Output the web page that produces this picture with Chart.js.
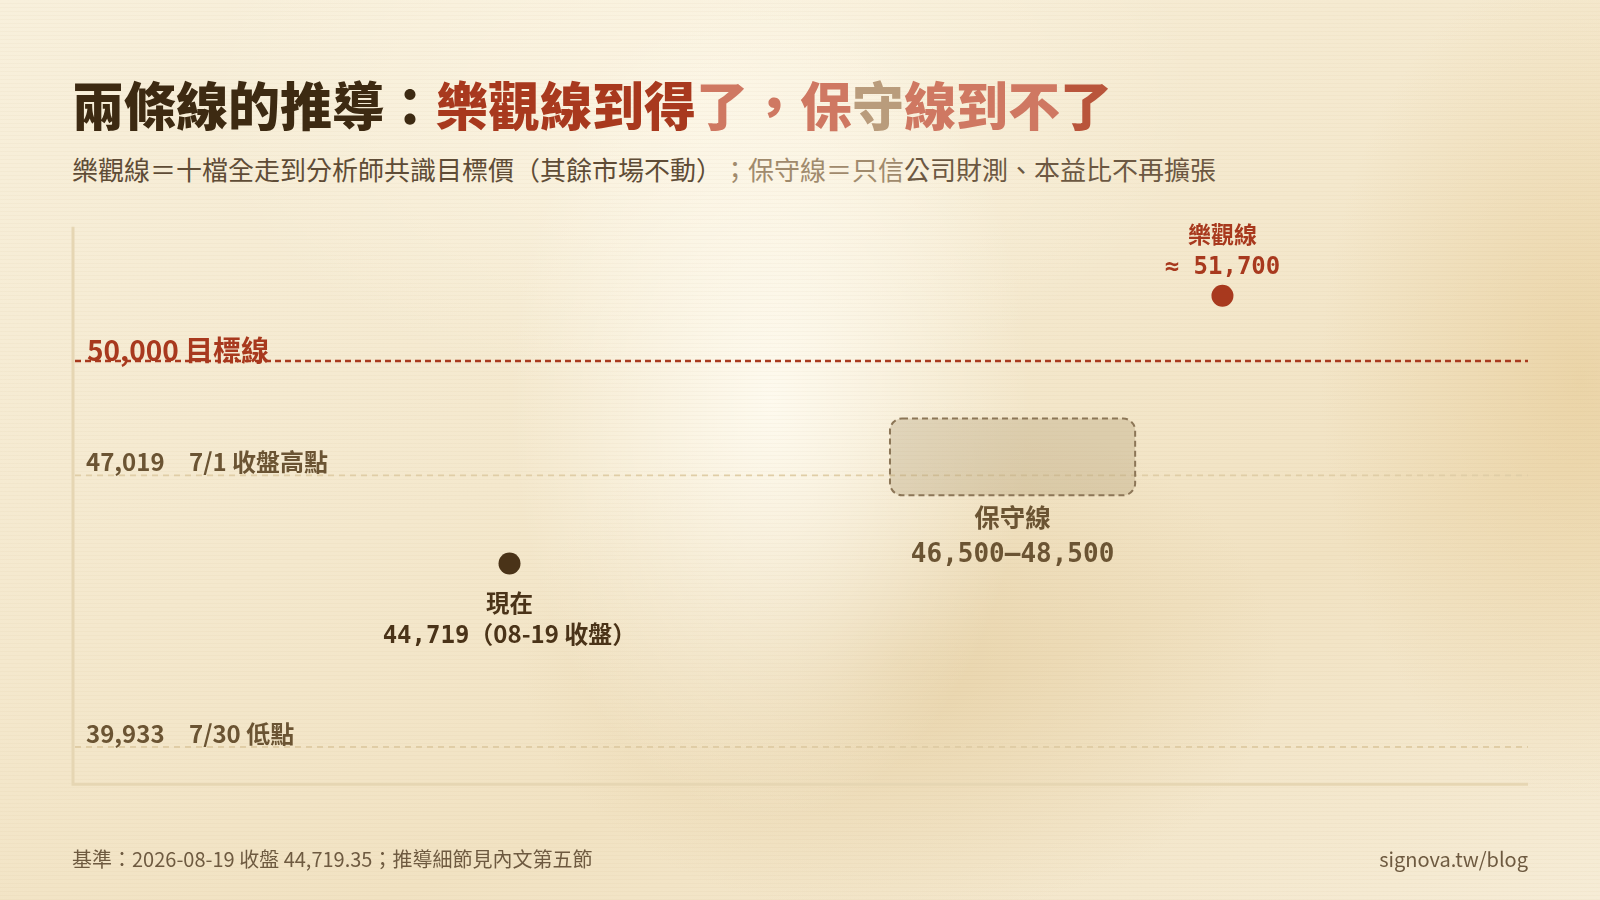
<!DOCTYPE html>
<html lang="zh-Hant">
<head>
<meta charset="utf-8">
<script src="https://cdn.jsdelivr.net/npm/chart.js@4.4.1/dist/chart.umd.min.js"></script>
<style>
  html, body { margin: 0; padding: 0; }
  body {
    width: 1600px; height: 900px; overflow: hidden; position: relative;
    font-family: 'Noto Sans CJK TC', 'Noto Sans', sans-serif;
    text-spacing-trim: space-all;
    background:
      repeating-linear-gradient(0deg, rgba(150,110,50,0.035) 0px, rgba(150,110,50,0.035) 1px, rgba(0,0,0,0) 1px, rgba(0,0,0,0) 4px),
      radial-gradient(ellipse 260px 420px at 770px 400px, rgba(255,252,242,0.9), rgba(255,252,242,0)),
      radial-gradient(ellipse 380px 260px at 900px 660px, rgba(222,196,146,0.45), rgba(222,196,146,0)),
      radial-gradient(ellipse 260px 420px at 1580px 380px, rgba(228,198,140,0.5), rgba(228,198,140,0)),
      radial-gradient(ellipse 500px 300px at 700px 100px, rgba(255,250,236,0.6), rgba(255,250,236,0)),
      linear-gradient(160deg, #f8f0dc 0%, #f4e8cd 45%, #f1e2c2 70%, #f6ecd6 100%);
  }
  #title {
    position: absolute; left: 72px; top: 78px;
    font-size: 52px; line-height: 52px; font-weight: 900; white-space: nowrap;
    color: #3d2a12;
  }
  #title .r { color: #a8391e; }
  #title .s { color: #cf7862; }
  #title .t { color: #b99c7c; }
  #title .r2 { color: #b9553b; }
  #subtitle {
    position: absolute; left: 72px; top: 156px;
    font-size: 26px; line-height: 26px; font-weight: 400; white-space: nowrap;
    color: #5f4c36;
  }
  #subtitle .f { color: #a08a6c; }
  #subtitle .m { color: #6c5842; }
  #chart { position: absolute; left: 0; top: 0; }
  .foot {
    position: absolute; top: 849px; font-size: 20px; line-height: 20px;
    color: #6e5a40; white-space: nowrap;
  }
  #footL { left: 72px; }
  #footR { right: 72px; }
</style>
</head>
<body>
<div id="title"><span>兩條線的推導：</span><span class="r">樂觀線到得</span><span class="s">了，保</span><span class="t">守</span><span class="s">線到不</span><span class="r2">了</span></div>
<div id="subtitle"><span>樂觀線＝十檔全走到分析師共識目標價（其餘市場不動）</span><span class="f">；保守線＝只信</span><span class="m">公司財測、本益比不再擴張</span></div>
<canvas id="chart" width="1600" height="900"></canvas>
<div class="foot" id="footL">基準：2026-08-19 收盤 44,719.35；推導細節見內文第五節</div>
<div class="foot" id="footR">signova.tw/blog</div>

<script>
// ---------- DATA ----------
const markerNames  = ['現在', '樂觀線'];
const markerX      = [30, 79];
const markerY      = [44719, 51700];
const markerValueText = ['44,719', '≈ 51,700'];
const markerNoteText  = ['（08-19 收盤）', ''];

const rangeName = '保守線';
const rangeX    = [56.15, 73.0];
const rangeY    = [46500, 48500];
const rangeText = '46,500–48,500';

const refValues = [50000, 47019, 39933];
const refValueText = ['50,000 目標線', '47,019', '39,933'];
const refNoteText  = ['', '7/1 收盤高點', '7/30 低點'];

const xRange = [0, 100];
const yRange = [39000, 53500];

// ---------- STYLE ----------
const RED = '#a8391e';
const DARK = '#4a3318';
const BROWN = '#6b5433';
const SANS = "'Noto Sans CJK TC', 'Noto Sans', sans-serif";
const MONO = "'DejaVu Sans Mono', 'Liberation Mono', monospace";

function roundRect(ctx, x, y, w, h, r) {
  ctx.beginPath();
  ctx.moveTo(x + r, y);
  ctx.lineTo(x + w - r, y);
  ctx.arcTo(x + w, y, x + w, y + r, r);
  ctx.lineTo(x + w, y + h - r);
  ctx.arcTo(x + w, y + h, x + w - r, y + h, r);
  ctx.lineTo(x + r, y + h);
  ctx.arcTo(x, y + h, x, y + h - r, r);
  ctx.lineTo(x, y + r);
  ctx.arcTo(x, y, x + r, y, r);
  ctx.closePath();
}

// draw text with vertical visual centre at cy
function text(ctx, str, x, cy, font, size, color, align) {
  ctx.font = font;
  ctx.fillStyle = color;
  ctx.textAlign = align || 'left';
  ctx.textBaseline = 'alphabetic';
  ctx.fillText(str, x, cy + 0.38 * size);
}

const annot = {
  id: 'annot',
  beforeDatasetsDraw(chart) {
    const { ctx, chartArea: a, scales: { x, y } } = chart;
    ctx.save();
    // axis lines
    ctx.strokeStyle = '#e6d6b3';
    ctx.lineWidth = 3;
    ctx.setLineDash([]);
    ctx.beginPath();
    ctx.moveTo(a.left, a.top);
    ctx.lineTo(a.left, a.bottom + 1.5);
    ctx.lineTo(a.right, a.bottom + 1.5);
    ctx.stroke();

    // reference lines
    refValues.forEach((v, i) => {
      const py = y.getPixelForValue(v);
      ctx.beginPath();
      if (i === 0) {
        ctx.strokeStyle = RED; ctx.lineWidth = 2.6; ctx.setLineDash([6, 4]);
      } else {
        ctx.strokeStyle = '#e0cda6'; ctx.lineWidth = 1.8; ctx.setLineDash([6, 5]);
      }
      ctx.moveTo(a.left + 2, py);
      ctx.lineTo(a.right, py);
      ctx.stroke();
    });
    ctx.setLineDash([]);

    // reference labels
    refValues.forEach((v, i) => {
      const py = y.getPixelForValue(v);
      if (i === 0) {
        text(ctx, refValueText[i], a.left + 14, py - 11, `700 28px ${SANS}`, 28, RED);
      } else {
        text(ctx, refValueText[i], a.left + 13, py - 13.5, `700 24px ${SANS}`, 24, BROWN);
        text(ctx, refNoteText[i], a.left + 116, py - 13.5, `700 24px ${SANS}`, 24, BROWN);
      }
    });

    // conservative range box
    const bx0 = x.getPixelForValue(rangeX[0]);
    const bx1 = x.getPixelForValue(rangeX[1]);
    const by0 = y.getPixelForValue(rangeY[1]);
    const by1 = y.getPixelForValue(rangeY[0]);
    roundRect(ctx, bx0, by0, bx1 - bx0, by1 - by0, 12);
    ctx.fillStyle = 'rgba(170,150,110,0.30)';
    ctx.fill();
    ctx.strokeStyle = '#8c7657';
    ctx.lineWidth = 2;
    ctx.setLineDash([6, 4]);
    ctx.stroke();
    ctx.setLineDash([]);
    const bcx = (bx0 + bx1) / 2;
    text(ctx, rangeName, bcx, by1 + 22, `700 25.5px ${SANS}`, 25.5, BROWN, 'center');
    text(ctx, rangeText, bcx, by1 + 57, `700 26px ${MONO}`, 26, BROWN, 'center');

    // marker labels
    markerX.forEach((mx, i) => {
      const px = x.getPixelForValue(mx);
      const py = y.getPixelForValue(markerY[i]);
      if (i === 0) {
        text(ctx, markerNames[i], px, py + 39.5, `700 23.5px ${SANS}`, 23.5, DARK, 'center');
        // mixed-font value line
        const f1 = `700 24px ${MONO}`, f2 = `700 24px ${SANS}`;
        ctx.font = f1; const w1 = ctx.measureText(markerValueText[i]).width;
        ctx.font = f2; const w2 = ctx.measureText(markerNoteText[i]).width;
        const sx = px - (w1 + w2) / 2;
        text(ctx, markerValueText[i], sx, py + 70.5, f1, 24, DARK, 'left');
        text(ctx, markerNoteText[i], sx + w1, py + 70.5, f2, 24, DARK, 'left');
      } else {
        text(ctx, markerNames[i], px, py - 62, `700 23px ${SANS}`, 23, RED, 'center');
        text(ctx, markerValueText[i], px, py - 31, `700 24px ${MONO}`, 24, RED, 'center');
      }
    });
    ctx.restore();
  }
};

new Chart(document.getElementById('chart'), {
  type: 'scatter',
  data: {
    datasets: [{
      data: markerX.map((v, i) => ({ x: v, y: markerY[i] })),
      pointRadius: 11,
      pointHoverRadius: 11,
      pointBorderWidth: 0,
      pointBackgroundColor: [DARK, RED],
      showLine: false
    }]
  },
  options: {
    responsive: false,
    animation: false,
    events: [],
    layout: { padding: { left: 73, right: 72, top: 226.8, bottom: 117.2 } },
    plugins: { legend: { display: false }, tooltip: { enabled: false } },
    scales: {
      x: { type: 'linear', min: xRange[0], max: xRange[1], display: false },
      y: { type: 'linear', min: yRange[0], max: yRange[1], display: false }
    }
  },
  plugins: [annot]
});
</script>
</body>
</html>
